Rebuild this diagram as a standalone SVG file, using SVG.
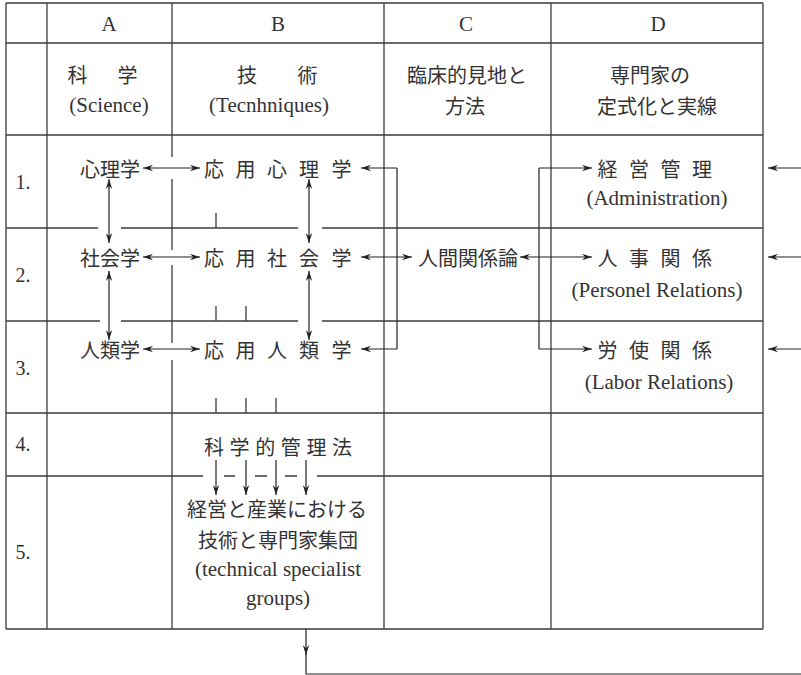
<svg xmlns="http://www.w3.org/2000/svg" width="801" height="675" viewBox="0 0 801 675">
<style>
.grid{stroke:#3c3c3c;stroke-width:1.3;fill:none}
.con{stroke:#222;stroke-width:1.2;fill:none}
.arr{marker-end:url(#ah)}
.dbl{marker-start:url(#ah);marker-end:url(#ah)}
.jp{font-family:"Noto Sans CJK JP","Noto Sans CJK SC",sans-serif;font-size:20px;fill:#333;dominant-baseline:central}
.en{font-family:"Liberation Serif","Noto Sans CJK JP",serif;font-size:21px;fill:#333}
.hd{font-size:21px}
.num{font-size:20px}
.m{text-anchor:middle}
</style>
<defs>
<marker id="ah" viewBox="0 0 10 7" refX="10" refY="3.5" markerWidth="10" markerHeight="7" markerUnits="userSpaceOnUse" orient="auto-start-reverse">
<path d="M0,0.3 L10,3.5 L0,6.7 L3.2,3.5 z" fill="#222"/>
</marker>
</defs>
<rect x="0" y="0" width="801" height="675" fill="#fff"/>
<g id="table">
<path class="grid" d="M6,3H763M6,43H763M6,135H763M6,228H98M121,228H298M322,228H763M6,321H100M121,321H298M322,321H763M6,413H763M6,476H203M224,476H235M255,476H267M285,476H297M317,476H763M6,629H763"/>
<path class="grid" d="M6,3V629M47,3V629M172,3V157M172,179V250M172,265V343M172,360V629M384,3V629M551,3V629M763,3V629"/>
<path class="grid" d="M216,213V228M216,306V321M246,306V321M216,398V413M246,398V413M276,398V413"/>
</g>
<g id="headers">
<text class="en hd m" x="109" y="31">A</text>
<text class="en hd m" x="278" y="31">B</text>
<text class="en hd m" x="466" y="31">C</text>
<text class="en hd m" x="658" y="31">D</text>
</g>
<g id="rownums">
<text class="en num m" x="23" y="189">1.</text>
<text class="en num m" x="23" y="282">2.</text>
<text class="en num m" x="23" y="375">3.</text>
<text class="en num m" x="23" y="451">4.</text>
<text class="en num m" x="23" y="559">5.</text>
</g>
<g id="science">
<text class="jp m" x="77.5 127.5" y="74.5">科学</text>
<text class="en m" x="109" y="112">(Science)</text>
</g>
<g id="techniques">
<text class="jp m" x="247 307.5" y="74.5">技術</text>
<text class="en m" x="269" y="112">(Tecnhniques)</text>
</g>
<g id="clinical">
<text class="jp m" x="467" y="74">臨床的見地と</text>
<text class="jp m" x="465" y="105">方法</text>
</g>
<g id="specialist">
<text class="jp m" x="650" y="74">専門家の</text>
<text class="jp m" x="657" y="105">定式化と実線</text>
</g>
<g id="psychology"><text class="jp m" x="110" y="168">心理学</text></g>
<g id="sociology"><text class="jp m" x="110" y="257">社会学</text></g>
<g id="anthropology"><text class="jp m" x="110" y="349">人類学</text></g>
<g id="applied-psychology"><text class="jp m" x="214 245.5 277 309 341.5" y="168">応用心理学</text></g>
<g id="applied-sociology"><text class="jp m" x="214 245.5 277 309 341.5" y="257">応用社会学</text></g>
<g id="applied-anthropology"><text class="jp m" x="214 245.5 277 309 341.5" y="349">応用人類学</text></g>
<g id="human-relations"><text class="jp m" x="468" y="257">人間関係論</text></g>
<g id="administration">
<text class="jp m" x="607.5 639 670.5 702" y="168">経営管理</text>
<text class="en m" x="657" y="205">(Administration)</text>
</g>
<g id="personnel">
<text class="jp m" x="607.5 639 670.5 702" y="257">人事関係</text>
<text class="en m" x="657" y="297">(Personel Relations)</text>
</g>
<g id="labor">
<text class="jp m" x="607.5 639 670.5 702" y="349">労使関係</text>
<text class="en m" x="659" y="389">(Labor Relations)</text>
</g>
<g id="scientific-management"><text class="jp m" x="214 239.6 265.2 290.8 316.4 342" y="446">科学的管理法</text></g>
<g id="specialist-groups">
<text class="jp m" x="277" y="508.5">経営と産業における</text>
<text class="jp m" x="278" y="539">技術と専門家集団</text>
<text class="en m" x="278" y="576">(technical specialist</text>
<text class="en m" x="278" y="605">groups)</text>
</g>
<g id="connectors">
<path class="con dbl" d="M143,168H200"/>
<path class="con dbl" d="M143,257H200"/>
<path class="con dbl" d="M143,349H200"/>
<path class="con dbl" d="M109,179V243"/>
<path class="con dbl" d="M109,271V340"/>
<path class="con dbl" d="M309,179V243"/>
<path class="con dbl" d="M309,271V340"/>
<path class="con" d="M397,168V349"/>
<path class="con arr" d="M397,168H361"/>
<path class="con arr" d="M397,349H361"/>
<path class="con dbl" d="M361,257H412"/>
<path class="con" d="M539,168V349"/>
<path class="con arr" d="M539,168H592"/>
<path class="con arr" d="M539,349H592"/>
<path class="con dbl" d="M520,257H592"/>
<path class="con arr" d="M801,168H768"/>
<path class="con arr" d="M801,257H768"/>
<path class="con arr" d="M801,349H768"/>
<path class="con arr" d="M216,460V495"/>
<path class="con arr" d="M246,460V495"/>
<path class="con arr" d="M276,460V495"/>
<path class="con arr" d="M306,460V495"/>
<path class="con arr" d="M306,629V655"/>
<path class="con" d="M306,654V674H801"/>
</g>
</svg>
